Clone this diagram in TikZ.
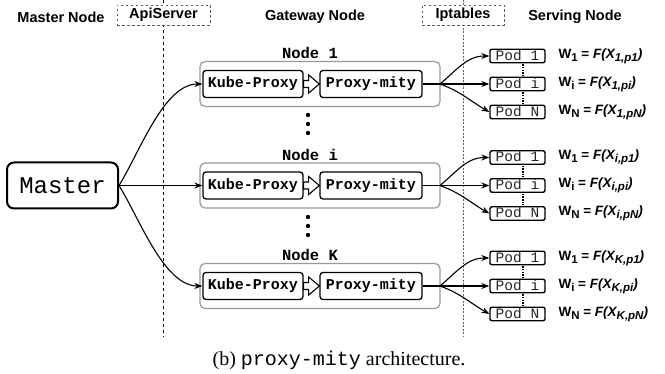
\documentclass[tikz,border=0pt]{standalone}
\usepackage{fontspec}
\setmainfont{Liberation Serif}
\setsansfont{Liberation Sans}
\setmonofont{Liberation Mono}
\usetikzlibrary{arrows.meta,calc,positioning}
\definecolor{grpgray}{HTML}{9A9A9A}
\newcommand{\wsub}[1]{\raisebox{-2.8pt}{\fontsize{11.5}{12}\selectfont#1}}

\begin{document}
\begin{tikzpicture}[x=1pt,y=1pt,
  hdr/.style={font=\sffamily\bfseries\fontsize{14.5}{16}\selectfont},
  tagbox/.style={hdr,draw=black!65,line width=0.8pt,dash pattern=on 2.5pt off 2.5pt,fill=white,minimum height=20,inner sep=0pt},
  grp/.style={draw=grpgray,line width=1.2pt,rounded corners=5pt,minimum width=240,minimum height=45},
  proc/.style={draw,line width=1.3pt,rounded corners=3pt,minimum height=27,inner sep=1pt,font=\ttfamily\bfseries\fontsize{15}{15}\selectfont},
  pod/.style={draw,line width=1.4pt,rounded corners=2pt,minimum width=55,minimum height=13.5,inner sep=0pt,text height=8.5,text depth=0,text=black!85,font=\ttfamily\fontsize{14.5}{14}\selectfont},
  lnk/.style={-{Stealth[length=8pt,width=6pt]},line width=1.1pt},
  wlab/.style={anchor=west,font=\sffamily\bfseries\fontsize{13.5}{15}\selectfont}
]
\useasboundingbox (0,0) rectangle (665,374);

% column separators
\draw[line width=0.8pt,dash pattern=on 3pt off 3pt] (163.5,374) -- (163.5,37);
\draw[black!60,line width=0.9pt,dash pattern=on 2pt off 1.5pt] (463,374) -- (463,37);

% headers
\node[hdr] (mhdr) at (61,357) {Master Node};
\node[tagbox,minimum width=93] (api) at (163.5,359) {ApiServer};
\node[hdr] (ghdr) at (315,357) {Gateway Node};
\node[tagbox,minimum width=82] (ipt) at (463,359) {Iptables};
\node[hdr] (shdr) at (575,357) {Serving Node};

\node[draw,line width=2pt,rounded corners=7pt,minimum width=111,minimum height=46,
      font=\ttfamily\fontsize{24}{24}\selectfont] (master) at (62.5,188.5) {Master};

\foreach \r/\yy/\mo in {1/290/58,i/188.5/0,K/88/-58}{
  \node[grp] (g\r) at (320,\yy) {};
  \node[font=\ttfamily\bfseries\fontsize{15.5}{16}\selectfont] (n\r) at (310,\yy+31) {Node \r};
  \node[proc,minimum width=100] (kp\r) at (253,\yy) {Kube-Proxy};
  \node[proc,minimum width=102] (pm\r) at (371,\yy) {Proxy-mity};
  \draw[line width=1.1pt,fill=white] ($(kp\r.east)+(0,3.5)$) -- ++(5,0) -- ++(0,5.5)
     -- ($(pm\r.west)$) -- ($(kp\r.east)+(5,-9)$) -- ++(0,5.5) -- ++(-5,0) -- cycle;
  \draw[lnk] (master.east) to[out=\mo,in=180,looseness=0.75] (kp\r.west);
  \coordinate (s\r) at (440,\yy);
  \draw[line width=1.1pt] (pm\r.east) -- (s\r);
  \node[pod] (pod\r-1) at (517.5,\yy+28) {Pod 1};
  \node[pod] (pod\r-i) at (517.5,\yy) {Pod i};
  \node[pod] (pod\r-N) at (517.5,\yy-28) {Pod N};
  \draw[lnk] (s\r) to[out=40,in=180] (pod\r-1.west);
  \draw[lnk] (s\r) -- (pod\r-i.west);
  \draw[lnk] (s\r) to[out=-20,in=150] (pod\r-N.west);
  \draw[line width=2pt,dash pattern=on 1.5pt off 1.2pt] ($(pod\r-1.south)+(5.5,-0.7)$) -- ($(pod\r-i.north)+(5.5,0.7)$);
  \draw[line width=2pt,dash pattern=on 1.5pt off 1.2pt] ($(pod\r-i.south)+(5.5,-0.7)$) -- ($(pod\r-N.north)+(5.5,0.7)$);
  \node[wlab] (w\r-1) at (555,\yy+28) {W\wsub{1} = \textit{F(X\wsub{\r,p1})}};
  \node[wlab] (w\r-i) at (555,\yy) {W\wsub{i} = \textit{F(X\wsub{\r,pi})}};
  \node[wlab] (w\r-N) at (555,\yy-28) {W\wsub{N} = \textit{F(X\wsub{\r,pN})}};
}

% vertical ellipses between rows
\foreach \yy in {259,250,241,157,148,139}
  \fill (308,\yy) circle (2.2);

\node[font=\fontsize{20}{21}\selectfont] (cap) at (339,14) {(b) \texttt{proxy-mity} architecture.};
\end{tikzpicture}
\end{document}
